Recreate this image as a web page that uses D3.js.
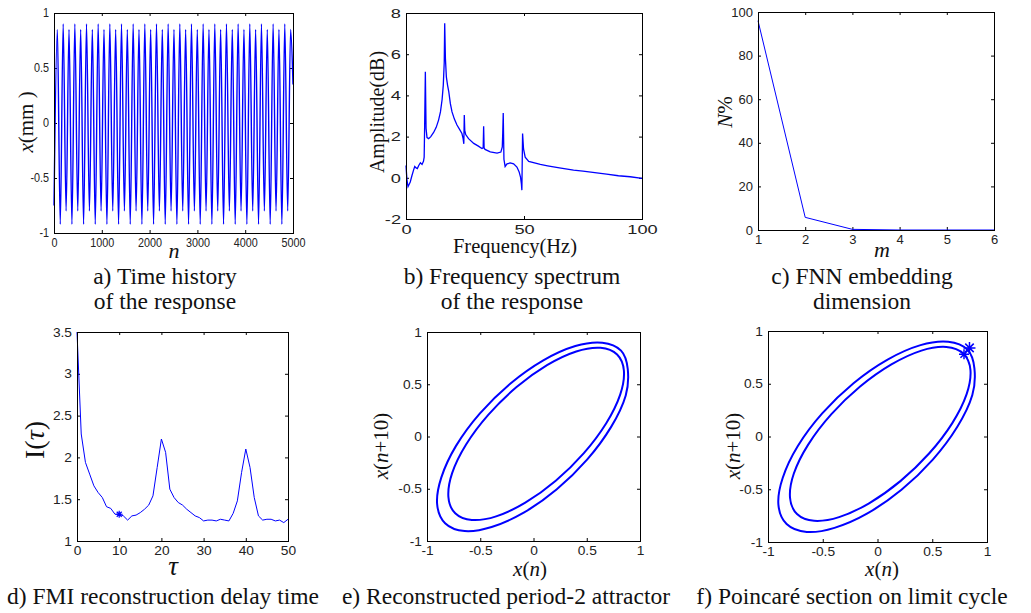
<!DOCTYPE html>
<html>
<head>
<meta charset="utf-8">
<script src="https://cdn.jsdelivr.net/npm/d3@7"></script>
<style>
  body { margin: 0; background: #fff; }
  svg { display: block; }
</style>
</head>
<body>
<svg id="fig" width="1031" height="613"></svg>
<script>
// a) time history: sample index / displacement at the visible turning points
const histN = [0,
  70, 131, 192, 253, 314, 375, 436, 497, 558, 619, 680, 741, 802, 863, 924, 985,
  1046, 1107, 1168, 1229, 1290, 1351, 1412, 1473, 1534, 1595, 1656, 1717, 1778, 1839, 1900, 1961,
  2022, 2083, 2144, 2205, 2266, 2327, 2388, 2449, 2510, 2571, 2632, 2693, 2754, 2815, 2876, 2937,
  2998, 3059, 3120, 3181, 3242, 3303, 3364, 3425, 3486, 3547, 3608, 3669, 3730, 3791, 3852, 3913,
  3974, 4035, 4096, 4157, 4218, 4279, 4340, 4401, 4462, 4523, 4584, 4645, 4706, 4767, 4828, 4889,
  4950, 5000];
const histX = [-0.75,
  0.85, -0.92, 0.9, -0.8, 0.85, -0.92, 0.9, -0.8, 0.85, -0.92, 0.9, -0.8, 0.85, -0.92, 0.9, -0.8,
  0.85, -0.92, 0.9, -0.8, 0.85, -0.92, 0.9, -0.8, 0.85, -0.92, 0.9, -0.8, 0.85, -0.92, 0.9, -0.8,
  0.85, -0.92, 0.9, -0.8, 0.85, -0.92, 0.9, -0.8, 0.85, -0.92, 0.9, -0.8, 0.85, -0.92, 0.9, -0.8,
  0.85, -0.92, 0.9, -0.8, 0.85, -0.92, 0.9, -0.8, 0.85, -0.92, 0.9, -0.8, 0.85, -0.92, 0.9, -0.8,
  0.85, -0.92, 0.9, -0.8, 0.85, -0.92, 0.9, -0.8, 0.85, -0.92, 0.9, -0.8, 0.85, -0.92, 0.9, -0.8,
  0.85, 0.35];

// b) frequency spectrum
const specF = [0, 0.4, 0.85, 1.8, 2.5, 3.2, 3.7, 4.3, 4.8, 5.4, 6.1, 6.8, 7.4, 7.7, 7.9, 8.2, 8.5, 8.9,
  9.6, 10.5, 11.7, 12.8, 13.8, 14.6, 15.3, 15.8, 16.2, 16.4, 16.7, 17.1, 17.6, 18.1, 18.8, 19.5,
  20.5, 21.6, 22.7, 23.7, 24.2, 24.5, 24.7, 24.9, 25.3, 26.5, 28.7, 30.5, 32.2, 32.7, 32.9, 33.1,
  33.5, 35.7, 38.6, 40.2, 40.8, 41.0, 41.2, 41.5, 42.0, 42.8, 44.2, 45.6, 47.0, 47.9, 48.5, 48.9,
  49.1, 49.4, 49.8, 50.5, 52, 56.9, 60, 65, 71, 75, 80, 85, 90, 95, 100];
const specA = [0.6, -0.1, -0.43, -0.2, 0.1, 0.37, 0.55, 0.48, 0.45, 0.6, 0.73, 0.65, 0.8, 1.0, 2.5, 5.15, 2.4, 1.95,
  1.9, 2.0, 2.2, 2.45, 2.8, 3.2, 3.8, 4.5, 5.6, 7.5, 5.8, 4.9, 4.5, 4.2, 3.6, 3.2,
  2.85, 2.56, 2.35, 2.15, 1.9, 1.65, 3.05, 2.3, 2.1, 1.9, 1.67, 1.55, 1.42, 1.45, 2.5, 1.45,
  1.38, 1.26, 1.2, 1.25, 1.5, 2.2, 3.15, 0.9, 0.55, 0.68, 0.72, 0.68, 0.52, 0.3, 0.05, -0.3,
  -0.6, 2.15, 1.4, 1.0, 0.8, 0.65, 0.58, 0.48, 0.37, 0.32, 0.25, 0.18, 0.1, 0.05, -0.03];

// c) false nearest neighbours
const fnnM = [1, 2, 3, 4, 5, 6];
const fnnPct = [96, 5.8, 0.3, 0, 0, 0];

// d) mutual information
const miTau = d3.range(0, 51);
const miVal = [3.5, 2.28, 1.94, 1.8, 1.66, 1.58, 1.52, 1.41, 1.39, 1.32, 1.32, 1.3, 1.25, 1.3, 1.31, 1.34, 1.38,
  1.43, 1.54, 1.88, 2.22, 2.06, 1.62, 1.52, 1.46, 1.43, 1.38, 1.34, 1.3, 1.28, 1.24, 1.25, 1.25, 1.24,
  1.26, 1.25, 1.24, 1.33, 1.48, 1.82, 2.1, 1.88, 1.52, 1.3, 1.25, 1.26, 1.26, 1.24, 1.25, 1.22, 1.26];
const miMark = [[10, 1.32]];

// e/f) attractor: points read around the outer and inner loop [x(n), x(n+10)]
const loopOuter = [[0.822, 0.822], [0.646, 0.898], [0.393, 0.866], [0.092, 0.729], [-0.219, 0.505],
  [-0.505, 0.219], [-0.729, -0.092], [-0.866, -0.393], [-0.905, -0.646], [-0.83, -0.83],
  [-0.646, -0.905], [-0.393, -0.866], [-0.092, -0.729], [0.219, -0.505], [0.505, -0.219],
  [0.729, 0.092], [0.866, 0.393], [0.885, 0.646]];
const loopInner = [[0.785, 0.785], [0.629, 0.849], [0.401, 0.814], [0.127, 0.683], [-0.159, 0.473],
  [-0.423, 0.209], [-0.633, -0.077], [-0.764, -0.351], [-0.799, -0.579], [-0.735, -0.735],
  [-0.579, -0.799], [-0.351, -0.764], [-0.077, -0.633], [0.209, -0.423], [0.473, -0.159],
  [0.683, 0.127], [0.814, 0.401], [0.849, 0.629]];
const poincarePts = [[0.84, 0.84], [0.79, 0.78]];

const blue = "#0000ff";
const sans = "'Liberation Sans', Arial, sans-serif";
const serif = "'Liberation Serif', 'Times New Roman', serif";
const svg = d3.select("#fig");

// boxed matlab-style axes, ticks pointing inwards on all four sides
function panel(box, xDom, yDom, xTicks, yTicks, fs, sx) {
  const x = d3.scaleLinear().domain(xDom).range([box[0], box[1]]);
  const y = d3.scaleLinear().domain(yDom).range([box[3], box[2]]);
  const g = svg.append("g");
  const fmt = d => String(d);
  const axes = [
    [d3.axisBottom(x).tickValues(xTicks).tickFormat(fmt), `translate(0,${box[3]})`],
    [d3.axisTop(x).tickValues(xTicks).tickFormat(""), `translate(0,${box[2]})`],
    [d3.axisLeft(y).tickValues(yTicks).tickFormat(fmt), `translate(${box[0]},0)`],
    [d3.axisRight(y).tickValues(yTicks).tickFormat(""), `translate(${box[1]},0)`]
  ];
  axes.forEach(([ax, tr]) => {
    const a = g.append("g").attr("transform", tr)
      .call(ax.tickSizeInner(-3).tickSizeOuter(0).tickPadding(5));
    a.select(".domain").remove();
    a.selectAll(".tick line").attr("stroke", "#000");
    a.selectAll(".tick text")
      .attr("font-size", fs)
      .attr("font-family", sans)
      .attr("fill", "#222")
      .attr("transform", `scale(${sx},1)`)
      .attr("x", function() { return (+d3.select(this).attr("x") || 0) / sx; });
  });
  g.append("rect")
    .attr("x", box[0] + 0.5).attr("y", box[2] + 0.5)
    .attr("width", box[1] - box[0]).attr("height", box[3] - box[2])
    .attr("fill", "none").attr("stroke", "#000");
  return { x, y, g };
}

function label(parts, x, y, size, rot) {
  const t = svg.append("text")
    .attr("font-family", serif)
    .attr("font-size", size)
    .attr("fill", "#111")
    .attr("text-anchor", "middle")
    .attr("transform", rot ? `translate(${x},${y}) rotate(-90)` : `translate(${x},${y})`);
  parts.forEach(([s, it]) => {
    t.append("tspan").attr("font-style", it ? "italic" : "normal").text(s);
  });
}

function star(r) {
  const d = r * 0.7071;
  return `M${-r},0L${r},0M0,${-r}L0,${r}M${-d},${-d}L${d},${d}M${-d},${d}L${d},${-d}`;
}

// a) time history
const pa = panel([54, 293, 13, 233], [0, 5000], [-1, 1], d3.range(0, 5001, 1000), [-1, -0.5, 0, 0.5, 1], 12, 0.9);
pa.g.insert("path", "rect")
  .datum(histN.map((n, i) => [n, histX[i]]))
  .attr("fill", "none").attr("stroke", blue).attr("stroke-width", 1.4)
  .attr("d", d3.line().x(d => pa.x(d[0])).y(d => pa.y(d[1])).curve(d3.curveMonotoneX));
label([["x", true], ["(mm )", false]], 33, 122, 21, true);
label([["n", true]], 174, 258, 22, false);

// b) spectrum
const pb = panel([406, 642, 13, 219], [0, 100], [-2, 8], [0, 50, 100], [-2, 0, 2, 4, 6, 8], 13.5, 1.35);
pb.g.insert("path", "rect")
  .datum(specF.map((f, i) => [f, specA[i]]))
  .attr("fill", "none").attr("stroke", blue).attr("stroke-width", 1.3)
  .attr("d", d3.line().x(d => pb.x(d[0])).y(d => pb.y(d[1])));
label([["Amplitude(dB)", false]], 384, 112, 20, true);
label([["Frequency(Hz)", false]], 515, 253, 20.5, false);

// c) FNN
const pc = panel([758, 994, 12, 230], [1, 6], [0, 100], fnnM, d3.range(0, 101, 20), 13, 1);
pc.g.insert("path", "rect")
  .datum(fnnM.map((m, i) => [m, fnnPct[i]]))
  .attr("fill", "none").attr("stroke", blue).attr("stroke-width", 1)
  .attr("d", d3.line().x(d => pc.x(d[0])).y(d => pc.y(d[1])));
label([["N", true], ["%", false]], 732, 112, 21, true);
label([["m", true]], 882, 257, 22, false);

// d) mutual information
const pd = panel([77, 288, 332, 541], [0, 50], [1, 3.5], d3.range(0, 51, 10), [1, 1.5, 2, 2.5, 3, 3.5], 12.5, 1.1);
pd.g.insert("path", "rect")
  .datum(miTau.map((t, i) => [t, miVal[i]]))
  .attr("fill", "none").attr("stroke", blue).attr("stroke-width", 1)
  .attr("d", d3.line().x(d => pd.x(d[0])).y(d => pd.y(d[1])));
pd.g.selectAll(".mk").data(miMark).join("path")
  .attr("transform", d => `translate(${pd.x(d[0])},${pd.y(d[1])})`)
  .attr("d", star(3.5)).attr("stroke", blue).attr("stroke-width", 1.2).attr("fill", "none");
label([["I(", false], ["τ", true], [")", false]], 44, 440, 28, true);
label([["τ", true]], 173, 575, 27, false);

// e) and f) attractor
const ticks11 = [-1, -0.5, 0, 0.5, 1];
function loops(p) {
  const ln = d3.line().x(d => p.x(d[0])).y(d => p.y(d[1])).curve(d3.curveCardinalClosed.tension(0));
  [loopOuter, loopInner].forEach(L => {
    p.g.insert("path", "rect").datum(L)
      .attr("fill", "none").attr("stroke", blue).attr("stroke-width", 2)
      .attr("d", ln);
  });
}
const pe = panel([427, 640, 332, 541], [-1, 1], [-1, 1], ticks11, ticks11, 12.5, 1.1);
loops(pe);
label([["x", true], ["(", false], ["n", true], ["+10)", false]], 388, 446, 21, true);
label([["x", true], ["(", false], ["n", true], [")", false]], 530, 576, 21, false);

const pf = panel([768, 987, 331, 542], [-1, 1], [-1, 1], ticks11, ticks11, 12.5, 1.1);
loops(pf);
pf.g.selectAll(".mk").data(poincarePts).join("path")
  .attr("transform", d => `translate(${pf.x(d[0])},${pf.y(d[1])})`)
  .attr("d", (d, i) => star(i === 0 ? 6 : 5)).attr("stroke", blue).attr("stroke-width", 1.5).attr("fill", "none");
label([["x", true], ["(", false], ["n", true], ["+10)", false]], 740, 446, 21, true);
label([["x", true], ["(", false], ["n", true], [")", false]], 882, 576, 21, false);

// captions
const caps = [
  ["a) Time history", 165, 284], ["of the response", 165, 309],
  ["b) Frequency spectrum", 512, 284], ["of the response", 512, 309],
  ["c) FNN embedding", 862, 284], ["dimension", 862, 309],
  ["d) FMI reconstruction delay time", 163, 604],
  ["e) Reconstructed period-2 attractor", 506, 604],
  ["f) Poincaré section on limit cycle", 852, 604]
];
svg.selectAll(".cap").data(caps).join("text")
  .attr("class", "cap")
  .attr("x", d => d[1]).attr("y", d => d[2])
  .attr("text-anchor", "middle")
  .attr("font-family", serif).attr("font-size", 23.5).attr("fill", "#111")
  .text(d => d[0]);
</script>
</body>
</html>
